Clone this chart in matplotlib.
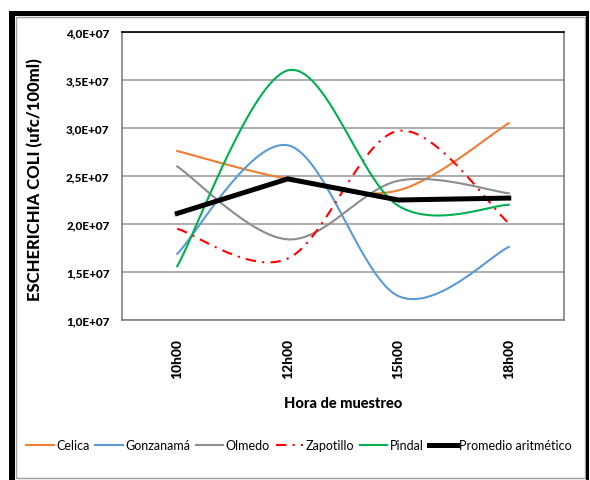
import numpy as np
import matplotlib
matplotlib.use("Agg")
import matplotlib.pyplot as plt
from matplotlib.patches import Rectangle

plt.rcParams['font.family'] = ['Lato', 'DejaVu Sans']

horas = ['10h00', '12h00', '15h00', '18h00']

celica = [2.76e7, 2.47e7, 2.35e7, 3.05e7]
gonzanama = [1.69e7, 2.82e7, 1.25e7, 1.76e7]
olmedo = [2.60e7, 1.84e7, 2.45e7, 2.32e7]
zapotillo = [1.95e7, 1.64e7, 2.97e7, 2.01e7]
pindal = [1.56e7, 3.60e7, 2.19e7, 2.20e7]
promedio = [2.11e7, 2.47e7, 2.25e7, 2.27e7]


def smooth(x, y, n=40):
    # Bezier curve through the points, similar to a spreadsheet "smoothed line"
    x = np.asarray(x, float)
    y = np.asarray(y, float)
    px = np.concatenate([[x[0]], x, [x[-1]]])
    py = np.concatenate([[y[0]], y, [y[-1]]])
    xs, ys = [], []
    t = np.linspace(0, 1, n)
    for i in range(1, len(px) - 2):
        p0 = np.array([px[i], py[i]])
        p3 = np.array([px[i + 1], py[i + 1]])
        c1 = p0 + (np.array([px[i + 1], py[i + 1]]) - np.array([px[i - 1], py[i - 1]])) / 6
        c2 = p3 - (np.array([px[i + 2], py[i + 2]]) - np.array([px[i], py[i]])) / 6
        b = ((1 - t) ** 3)[:, None] * p0 + (3 * (1 - t) ** 2 * t)[:, None] * c1 \
            + (3 * (1 - t) * t ** 2)[:, None] * c2 + (t ** 3)[:, None] * p3
        xs.extend(b[:, 0])
        ys.extend(b[:, 1])
    return xs, ys


fig = plt.figure(figsize=(5.9, 4.81), dpi=100)
ax = fig.add_axes([122 / 590, 1 - 321 / 481, 442 / 590, 288 / 481])

xpos = np.arange(len(horas)) + 0.5

series = [
    ('Celica', celica, '#ED7D31', '-'),
    ('Gonzanamá', gonzanama, '#5B9BD5', '-'),
    ('Olmedo', olmedo, '#8C8C8C', '-'),
    ('Zapotillo', zapotillo, '#FF0000', (0, (5, 3, 1, 3))),
    ('Pindal', pindal, '#00B050', '-'),
]
for name, vals, color, ls in series:
    sx, sy = smooth(xpos, vals)
    ax.plot(sx, sy, color=color, lw=1.5, ls=ls, label=name)

ax.plot(xpos, promedio, color='black', lw=3.6, label='Promedio aritmético',
        solid_joinstyle='miter')

ax.set_xlim(0, len(horas))
ax.set_ylim(1.0e7, 4.0e7)
ax.set_yticks(np.arange(1.0e7, 4.01e7, 0.5e7))
ax.set_yticklabels([('%.1fE+07' % (v / 1e7)).replace('.', ',')
                    for v in ax.get_yticks()], fontweight='black', fontsize=8.5)
ax.set_xticks(xpos)
ax.set_xticklabels(horas, rotation=90, fontweight='black', fontsize=10)
ax.tick_params(axis='both', length=0)
ax.tick_params(axis='y', pad=9)
ax.tick_params(axis='x', pad=13)
ax.grid(axis='y', color='#A0A0A0', lw=1.2)
ax.set_axisbelow(True)
for side in ['left', 'right', 'bottom']:
    ax.spines[side].set_color('#808080')
    ax.spines[side].set_linewidth(1.2)
ax.spines['top'].set_color('black')
ax.spines['top'].set_linewidth(1.2)

ax.set_xlabel('Hora de muestreo', fontweight='black', fontsize=10.5)
ax.xaxis.set_label_coords(0.5, -0.265)
ax.xaxis.label.set_va('top')
ax.set_ylabel('ESCHERICHIA COLI (ufc/100ml)', fontweight='black', fontsize=12)
ax.yaxis.set_label_coords(-0.178, 0.49)

fig.legend(loc='center', bbox_to_anchor=(299 / 590, 1 - 446 / 481), ncol=6,
           frameon=False, fontsize=9, handlelength=2.2, handletextpad=0.2,
           columnspacing=0.45, borderaxespad=0)

# frame around the chart
fig.patches.append(Rectangle((16 / 590, 1 - 479 / 481), 569 / 590, 461 / 481,
                             transform=fig.transFigure, fill=False,
                             edgecolor='#A0A0A0', lw=1))
for x0, y0, w, h in [(9, 12, 6, 469), (9, 12, 580, 5), (586, 12, 3, 469)]:
    fig.patches.append(Rectangle((x0 / 590, 1 - (y0 + h) / 481), w / 590, h / 481,
                                 transform=fig.transFigure, color='black', lw=0))

fig.savefig('out.png', dpi=100)
